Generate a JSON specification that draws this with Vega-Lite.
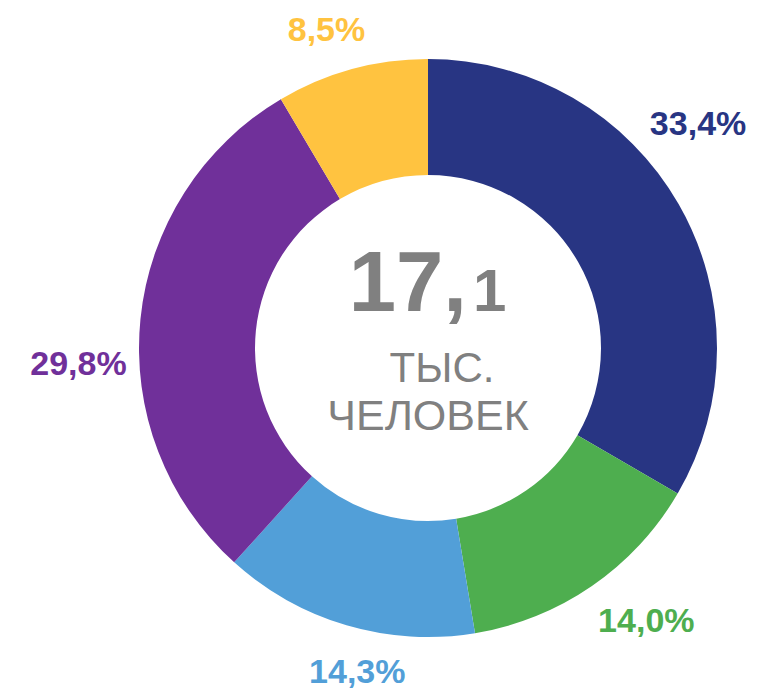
{
  "$schema": "https://vega.github.io/schema/vega-lite/v6.json",
  "width": 674,
  "height": 688,
  "padding": {"left": 91, "top": 4, "right": 0, "bottom": 0},
  "autosize": {"type": "none"},
  "background": "white",
  "config": {"view": {"stroke": null}, "font": "Liberation Sans"},
  "layer": [
    {
      "data": {
        "values": [
          {"segment": "A", "order": 1, "value": 33.4, "label": "33,4%"},
          {"segment": "B", "order": 2, "value": 14.0, "label": "14,0%"},
          {"segment": "C", "order": 3, "value": 14.3, "label": "14,3%"},
          {"segment": "D", "order": 4, "value": 29.8, "label": "29,8%"},
          {"segment": "E", "order": 5, "value": 8.5, "label": "8,5%"}
        ]
      },
      "encoding": {
        "color": {
          "field": "segment",
          "type": "nominal",
          "legend": null,
          "scale": {
            "domain": ["A", "B", "C", "D", "E"],
            "range": ["#283583", "#4EAE4F", "#529FD8", "#70309A", "#FFC340"]
          }
        }
      },
      "layer": [
        {
          "mark": {"type": "arc", "outerRadius": 289, "innerRadius": 173},
          "encoding": {
            "theta": {"field": "value", "type": "quantitative", "stack": true, "scale": {"domain": [0, 100]}},
            "order": {"field": "order", "type": "quantitative"}
          }
        },
        {
          "transform": [
            {"window": [{"op": "sum", "field": "value", "as": "cum"}], "sort": [{"field": "order"}], "frame": [null, 0]},
            {"calculate": "datum.cum - datum.value + 0.42 * datum.value", "as": "labelPos"},
            {"filter": {"field": "segment", "oneOf": ["A", "B", "D"]}}
          ],
          "mark": {"type": "text", "radius": 350, "fontSize": 34, "fontWeight": "bold", "align": "center", "baseline": "middle"},
          "encoding": {
            "theta": {"field": "labelPos", "type": "quantitative", "stack": false, "scale": {"domain": [0, 100]}},
            "text": {"field": "label", "type": "nominal"}
          }
        },
        {
          "transform": [
            {"window": [{"op": "sum", "field": "value", "as": "cum"}], "sort": [{"field": "order"}], "frame": [null, 0]},
            {"calculate": "datum.cum - datum.value + 0.42 * datum.value", "as": "labelPos"},
            {"filter": {"field": "segment", "oneOf": ["C", "E"]}}
          ],
          "mark": {"type": "text", "radius": 333, "fontSize": 34, "fontWeight": "bold", "align": "center", "baseline": "middle"},
          "encoding": {
            "theta": {"field": "labelPos", "type": "quantitative", "stack": false, "scale": {"domain": [0, 100]}},
            "text": {"field": "label", "type": "nominal"}
          }
        }
      ]
    },
    {
      "data": {"values": [{"big": "17,", "small": "1", "l1": "ТЫС.", "l2": "ЧЕЛОВЕК"}]},
      "layer": [
        {"mark": {"type": "text", "align": "right", "baseline": "alphabetic", "fontSize": 85, "fontWeight": "bold", "color": "#808080", "dx": 39, "dy": -37},
         "encoding": {"text": {"field": "big", "type": "nominal"}}},
        {"mark": {"type": "text", "align": "left", "baseline": "alphabetic", "fontSize": 60, "fontWeight": "bold", "color": "#808080", "dx": 45, "dy": -37},
         "encoding": {"text": {"field": "small", "type": "nominal"}}},
        {"mark": {"type": "text", "align": "center", "baseline": "alphabetic", "fontSize": 42, "color": "#808080", "dx": 14, "dy": 34},
         "encoding": {"text": {"field": "l1", "type": "nominal"}}},
        {"mark": {"type": "text", "align": "center", "baseline": "alphabetic", "fontSize": 43, "color": "#808080", "dy": 82},
         "encoding": {"text": {"field": "l2", "type": "nominal"}}}
      ]
    }
  ]
}
